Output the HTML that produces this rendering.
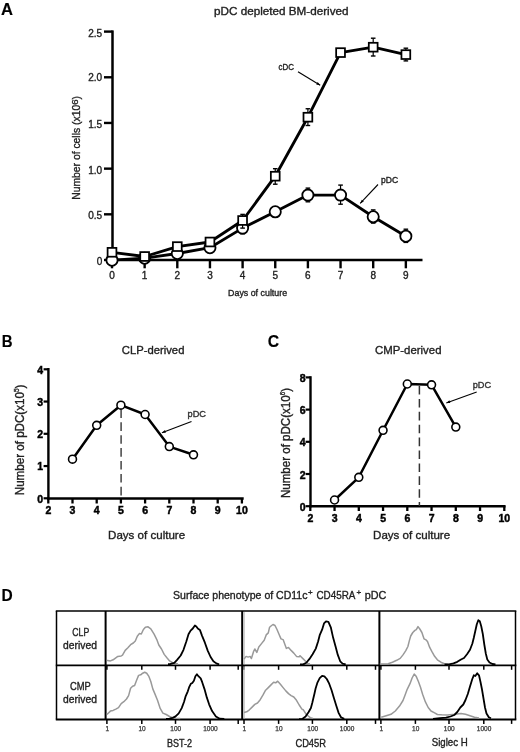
<!DOCTYPE html>
<html><head><meta charset="utf-8"><style>
html,body{margin:0;padding:0;background:#fff;}
svg{display:block;font-family:"Liberation Sans", sans-serif;will-change:transform;}
</style></head><body>
<svg width="520" height="752" viewBox="0 0 520 752" font-family='"Liberation Sans", sans-serif'>
<rect width="520" height="752" fill="#fff"/>
<text x="0.9" y="15.2" font-size="17" text-anchor="start" font-weight="bold" fill="#000" stroke="#000" stroke-width="0.15" textLength="12" lengthAdjust="spacingAndGlyphs" >A</text>
<text x="214" y="15.2" font-size="11" text-anchor="start" font-weight="normal" fill="#222" stroke="#222" stroke-width="0.35" textLength="134.5" lengthAdjust="spacingAndGlyphs" >pDC depleted BM-derived</text>
<line x1="112.5" y1="30.4" x2="112.5" y2="261.2" stroke="#000" stroke-width="2.5" />
<line x1="111.3" y1="260" x2="422.5" y2="260" stroke="#000" stroke-width="2.5" />
<line x1="104" y1="260.0" x2="112.5" y2="260.0" stroke="#000" stroke-width="2.4" />
<text x="102.2" y="264.8" font-size="10" text-anchor="end" font-weight="normal" fill="#222" stroke="#222" stroke-width="0.35" >0</text>
<line x1="104" y1="214.32" x2="112.5" y2="214.32" stroke="#000" stroke-width="2.4" />
<text x="102.2" y="219.32" font-size="10" text-anchor="end" font-weight="normal" fill="#222" stroke="#222" stroke-width="0.35" >0.5</text>
<line x1="104" y1="168.64" x2="112.5" y2="168.64" stroke="#000" stroke-width="2.4" />
<text x="102.2" y="173.54" font-size="10" text-anchor="end" font-weight="normal" fill="#222" stroke="#222" stroke-width="0.35" >1.0</text>
<line x1="104" y1="122.96000000000001" x2="112.5" y2="122.96000000000001" stroke="#000" stroke-width="2.4" />
<text x="102.2" y="127.86000000000001" font-size="10" text-anchor="end" font-weight="normal" fill="#222" stroke="#222" stroke-width="0.35" >1.5</text>
<line x1="104" y1="77.28" x2="112.5" y2="77.28" stroke="#000" stroke-width="2.4" />
<text x="102.2" y="81.08" font-size="10" text-anchor="end" font-weight="normal" fill="#222" stroke="#222" stroke-width="0.35" >2.0</text>
<line x1="104" y1="31.599999999999994" x2="112.5" y2="31.599999999999994" stroke="#000" stroke-width="2.4" />
<text x="102.2" y="36.99999999999999" font-size="10" text-anchor="end" font-weight="normal" fill="#222" stroke="#222" stroke-width="0.35" >2.5</text>
<line x1="112.0" y1="260" x2="112.0" y2="268.3" stroke="#000" stroke-width="2.4" />
<text x="112.0" y="278.7" font-size="10" text-anchor="middle" font-weight="normal" fill="#222" stroke="#222" stroke-width="0.35" >0</text>
<line x1="144.65" y1="260" x2="144.65" y2="268.3" stroke="#000" stroke-width="2.4" />
<text x="144.65" y="278.7" font-size="10" text-anchor="middle" font-weight="normal" fill="#222" stroke="#222" stroke-width="0.35" >1</text>
<line x1="177.3" y1="260" x2="177.3" y2="268.3" stroke="#000" stroke-width="2.4" />
<text x="177.3" y="278.7" font-size="10" text-anchor="middle" font-weight="normal" fill="#222" stroke="#222" stroke-width="0.35" >2</text>
<line x1="209.95" y1="260" x2="209.95" y2="268.3" stroke="#000" stroke-width="2.4" />
<text x="209.95" y="278.7" font-size="10" text-anchor="middle" font-weight="normal" fill="#222" stroke="#222" stroke-width="0.35" >3</text>
<line x1="242.6" y1="260" x2="242.6" y2="268.3" stroke="#000" stroke-width="2.4" />
<text x="242.6" y="278.7" font-size="10" text-anchor="middle" font-weight="normal" fill="#222" stroke="#222" stroke-width="0.35" >4</text>
<line x1="275.25" y1="260" x2="275.25" y2="268.3" stroke="#000" stroke-width="2.4" />
<text x="275.25" y="278.7" font-size="10" text-anchor="middle" font-weight="normal" fill="#222" stroke="#222" stroke-width="0.35" >5</text>
<line x1="307.9" y1="260" x2="307.9" y2="268.3" stroke="#000" stroke-width="2.4" />
<text x="307.9" y="278.7" font-size="10" text-anchor="middle" font-weight="normal" fill="#222" stroke="#222" stroke-width="0.35" >6</text>
<line x1="340.54999999999995" y1="260" x2="340.54999999999995" y2="268.3" stroke="#000" stroke-width="2.4" />
<text x="340.54999999999995" y="278.7" font-size="10" text-anchor="middle" font-weight="normal" fill="#222" stroke="#222" stroke-width="0.35" >7</text>
<line x1="373.2" y1="260" x2="373.2" y2="268.3" stroke="#000" stroke-width="2.4" />
<text x="373.2" y="278.7" font-size="10" text-anchor="middle" font-weight="normal" fill="#222" stroke="#222" stroke-width="0.35" >8</text>
<line x1="405.84999999999997" y1="260" x2="405.84999999999997" y2="268.3" stroke="#000" stroke-width="2.4" />
<text x="405.84999999999997" y="278.7" font-size="10" text-anchor="middle" font-weight="normal" fill="#222" stroke="#222" stroke-width="0.35" >9</text>
<text x="228.1" y="295.8" font-size="9" text-anchor="start" font-weight="normal" fill="#222" stroke="#222" stroke-width="0.35" textLength="59" lengthAdjust="spacingAndGlyphs" >Days of culture</text>
<text transform="translate(79.6,199.8) rotate(-90)" font-size="10.5" fill="#222" stroke="#222" stroke-width="0.35" textLength="103.8" lengthAdjust="spacingAndGlyphs">Number of cells (x10<tspan font-size="9.8" dy="-1.7">6</tspan><tspan dy="1.7">)</tspan></text>
<polyline points="112.0,260.2 144.7,258.2 177.3,253.5 209.9,247.7 242.6,228.1 275.2,211.8 307.9,195.1 340.5,195.1 373.2,216.8 405.8,236.2" fill="none" stroke="#000" stroke-width="2.85" stroke-linejoin="round" />
<line x1="242.6" y1="222" x2="242.6" y2="233.8" stroke="#000" stroke-width="1.2" />
<line x1="240.29999999999998" y1="222" x2="244.9" y2="222" stroke="#000" stroke-width="1.4" />
<line x1="240.29999999999998" y1="233.8" x2="244.9" y2="233.8" stroke="#000" stroke-width="1.4" />
<line x1="307.9" y1="188.1" x2="307.9" y2="201.8" stroke="#000" stroke-width="1.2" />
<line x1="305.59999999999997" y1="188.1" x2="310.2" y2="188.1" stroke="#000" stroke-width="1.4" />
<line x1="305.59999999999997" y1="201.8" x2="310.2" y2="201.8" stroke="#000" stroke-width="1.4" />
<line x1="340.54999999999995" y1="185.1" x2="340.54999999999995" y2="204.2" stroke="#000" stroke-width="1.2" />
<line x1="338.24999999999994" y1="185.1" x2="342.84999999999997" y2="185.1" stroke="#000" stroke-width="1.4" />
<line x1="338.24999999999994" y1="204.2" x2="342.84999999999997" y2="204.2" stroke="#000" stroke-width="1.4" />
<line x1="373.2" y1="209.9" x2="373.2" y2="223.1" stroke="#000" stroke-width="1.2" />
<line x1="370.9" y1="209.9" x2="375.5" y2="209.9" stroke="#000" stroke-width="1.4" />
<line x1="370.9" y1="223.1" x2="375.5" y2="223.1" stroke="#000" stroke-width="1.4" />
<line x1="405.84999999999997" y1="229.2" x2="405.84999999999997" y2="242.4" stroke="#000" stroke-width="1.2" />
<line x1="403.54999999999995" y1="229.2" x2="408.15" y2="229.2" stroke="#000" stroke-width="1.4" />
<line x1="403.54999999999995" y1="242.4" x2="408.15" y2="242.4" stroke="#000" stroke-width="1.4" />
<circle cx="112.00" cy="260.2" r="5.6" fill="#fff" stroke="#000" stroke-width="1.8"/>
<circle cx="144.65" cy="258.2" r="5.6" fill="#fff" stroke="#000" stroke-width="1.8"/>
<circle cx="177.30" cy="253.5" r="5.6" fill="#fff" stroke="#000" stroke-width="1.8"/>
<circle cx="209.95" cy="247.7" r="5.6" fill="#fff" stroke="#000" stroke-width="1.8"/>
<circle cx="242.60" cy="228.1" r="5.6" fill="#fff" stroke="#000" stroke-width="1.8"/>
<circle cx="275.25" cy="211.8" r="5.6" fill="#fff" stroke="#000" stroke-width="1.8"/>
<circle cx="307.90" cy="195.1" r="5.6" fill="#fff" stroke="#000" stroke-width="1.8"/>
<circle cx="340.55" cy="195.1" r="5.6" fill="#fff" stroke="#000" stroke-width="1.8"/>
<circle cx="373.20" cy="216.8" r="5.6" fill="#fff" stroke="#000" stroke-width="1.8"/>
<circle cx="405.85" cy="236.2" r="5.6" fill="#fff" stroke="#000" stroke-width="1.8"/>
<polyline points="112.0,252.3 144.7,256.5 177.3,246.6 209.9,242.0 242.6,220.5 275.2,176.2 307.9,117.2 340.5,52.6 373.2,47.2 405.8,54.6" fill="none" stroke="#000" stroke-width="2.85" stroke-linejoin="round" />
<line x1="242.6" y1="214.4" x2="242.6" y2="228.1" stroke="#000" stroke-width="1.2" />
<line x1="240.29999999999998" y1="214.4" x2="244.9" y2="214.4" stroke="#000" stroke-width="1.4" />
<line x1="240.29999999999998" y1="228.1" x2="244.9" y2="228.1" stroke="#000" stroke-width="1.4" />
<line x1="275.25" y1="168.7" x2="275.25" y2="184.2" stroke="#000" stroke-width="1.2" />
<line x1="272.95" y1="168.7" x2="277.55" y2="168.7" stroke="#000" stroke-width="1.4" />
<line x1="272.95" y1="184.2" x2="277.55" y2="184.2" stroke="#000" stroke-width="1.4" />
<line x1="307.9" y1="108.75" x2="307.9" y2="125.5" stroke="#000" stroke-width="1.2" />
<line x1="305.59999999999997" y1="108.75" x2="310.2" y2="108.75" stroke="#000" stroke-width="1.4" />
<line x1="305.59999999999997" y1="125.5" x2="310.2" y2="125.5" stroke="#000" stroke-width="1.4" />
<line x1="373.2" y1="38.2" x2="373.2" y2="56" stroke="#000" stroke-width="1.2" />
<line x1="370.9" y1="38.2" x2="375.5" y2="38.2" stroke="#000" stroke-width="1.4" />
<line x1="370.9" y1="56" x2="375.5" y2="56" stroke="#000" stroke-width="1.4" />
<line x1="405.84999999999997" y1="48.2" x2="405.84999999999997" y2="60.9" stroke="#000" stroke-width="1.2" />
<line x1="403.54999999999995" y1="48.2" x2="408.15" y2="48.2" stroke="#000" stroke-width="1.4" />
<line x1="403.54999999999995" y1="60.9" x2="408.15" y2="60.9" stroke="#000" stroke-width="1.4" />
<rect x="107.60" y="247.90" width="8.8" height="8.8" fill="#fff" stroke="#000" stroke-width="1.75"/>
<rect x="140.25" y="252.10" width="8.8" height="8.8" fill="#fff" stroke="#000" stroke-width="1.75"/>
<rect x="172.90" y="242.20" width="8.8" height="8.8" fill="#fff" stroke="#000" stroke-width="1.75"/>
<rect x="205.55" y="237.60" width="8.8" height="8.8" fill="#fff" stroke="#000" stroke-width="1.75"/>
<rect x="238.20" y="216.10" width="8.8" height="8.8" fill="#fff" stroke="#000" stroke-width="1.75"/>
<rect x="270.85" y="171.80" width="8.8" height="8.8" fill="#fff" stroke="#000" stroke-width="1.75"/>
<rect x="303.50" y="112.80" width="8.8" height="8.8" fill="#fff" stroke="#000" stroke-width="1.75"/>
<rect x="336.15" y="48.20" width="8.8" height="8.8" fill="#fff" stroke="#000" stroke-width="1.75"/>
<rect x="368.80" y="42.80" width="8.8" height="8.8" fill="#fff" stroke="#000" stroke-width="1.75"/>
<rect x="401.45" y="50.20" width="8.8" height="8.8" fill="#fff" stroke="#000" stroke-width="1.75"/>
<text x="278.5" y="69.8" font-size="8.6" text-anchor="start" font-weight="normal" fill="#222" stroke="#222" stroke-width="0.35" textLength="15.4" lengthAdjust="spacingAndGlyphs" >cDC</text>
<line x1="298" y1="71.8" x2="320.2" y2="85.3" stroke="#000" stroke-width="1.1" />
<polygon points="320.2,85.3 316.2,84.5 317.7,82.1" fill="#000"/>
<text x="381" y="183.2" font-size="8.6" text-anchor="start" font-weight="normal" fill="#222" stroke="#222" stroke-width="0.35" textLength="17.1" lengthAdjust="spacingAndGlyphs" >pDC</text>
<line x1="378" y1="184.5" x2="360.2" y2="203.4" stroke="#000" stroke-width="1.1" />
<polygon points="360.2,203.4 361.8,199.7 363.8,201.6" fill="#000"/>
<text x="1.7" y="346.5" font-size="17" text-anchor="start" font-weight="bold" fill="#000" stroke="#000" stroke-width="0.15" textLength="10.8" lengthAdjust="spacingAndGlyphs" >B</text>
<text x="121.8" y="354.1" font-size="11.7" text-anchor="start" font-weight="normal" fill="#222" stroke="#222" stroke-width="0.35" textLength="62.6" lengthAdjust="spacingAndGlyphs" >CLP-derived</text>
<line x1="48.4" y1="368" x2="48.4" y2="499.5" stroke="#000" stroke-width="2.4" />
<line x1="47.2" y1="498.5" x2="243.7" y2="498.5" stroke="#000" stroke-width="2.4" />
<line x1="43.6" y1="498.3" x2="48.4" y2="498.3" stroke="#000" stroke-width="2.2" />
<text x="43.2" y="502.5" font-size="10.5" text-anchor="end" font-weight="bold" fill="#000" stroke="#000" stroke-width="0.45" >0</text>
<line x1="43.6" y1="466.05" x2="48.4" y2="466.05" stroke="#000" stroke-width="2.2" />
<text x="43.2" y="470.25" font-size="10.5" text-anchor="end" font-weight="bold" fill="#000" stroke="#000" stroke-width="0.45" >1</text>
<line x1="43.6" y1="433.8" x2="48.4" y2="433.8" stroke="#000" stroke-width="2.2" />
<text x="43.2" y="438.0" font-size="10.5" text-anchor="end" font-weight="bold" fill="#000" stroke="#000" stroke-width="0.45" >2</text>
<line x1="43.6" y1="401.55" x2="48.4" y2="401.55" stroke="#000" stroke-width="2.2" />
<text x="43.2" y="405.75" font-size="10.5" text-anchor="end" font-weight="bold" fill="#000" stroke="#000" stroke-width="0.45" >3</text>
<line x1="43.6" y1="369.3" x2="48.4" y2="369.3" stroke="#000" stroke-width="2.2" />
<text x="43.2" y="373.5" font-size="10.5" text-anchor="end" font-weight="bold" fill="#000" stroke="#000" stroke-width="0.45" >4</text>
<line x1="48.3" y1="498.5" x2="48.3" y2="503.5" stroke="#000" stroke-width="2.3" />
<text x="48.3" y="513.6" font-size="10.5" text-anchor="middle" font-weight="bold" fill="#000" stroke="#000" stroke-width="0.45" >2</text>
<line x1="72.5" y1="498.5" x2="72.5" y2="503.5" stroke="#000" stroke-width="2.3" />
<text x="72.5" y="513.6" font-size="10.5" text-anchor="middle" font-weight="bold" fill="#000" stroke="#000" stroke-width="0.45" >3</text>
<line x1="96.69999999999999" y1="498.5" x2="96.69999999999999" y2="503.5" stroke="#000" stroke-width="2.3" />
<text x="96.69999999999999" y="513.6" font-size="10.5" text-anchor="middle" font-weight="bold" fill="#000" stroke="#000" stroke-width="0.45" >4</text>
<line x1="120.89999999999999" y1="498.5" x2="120.89999999999999" y2="503.5" stroke="#000" stroke-width="2.3" />
<text x="120.89999999999999" y="513.6" font-size="10.5" text-anchor="middle" font-weight="bold" fill="#000" stroke="#000" stroke-width="0.45" >5</text>
<line x1="145.1" y1="498.5" x2="145.1" y2="503.5" stroke="#000" stroke-width="2.3" />
<text x="145.1" y="513.6" font-size="10.5" text-anchor="middle" font-weight="bold" fill="#000" stroke="#000" stroke-width="0.45" >6</text>
<line x1="169.3" y1="498.5" x2="169.3" y2="503.5" stroke="#000" stroke-width="2.3" />
<text x="169.3" y="513.6" font-size="10.5" text-anchor="middle" font-weight="bold" fill="#000" stroke="#000" stroke-width="0.45" >7</text>
<line x1="193.5" y1="498.5" x2="193.5" y2="503.5" stroke="#000" stroke-width="2.3" />
<text x="193.5" y="513.6" font-size="10.5" text-anchor="middle" font-weight="bold" fill="#000" stroke="#000" stroke-width="0.45" >8</text>
<line x1="217.7" y1="498.5" x2="217.7" y2="503.5" stroke="#000" stroke-width="2.3" />
<text x="217.7" y="513.6" font-size="10.5" text-anchor="middle" font-weight="bold" fill="#000" stroke="#000" stroke-width="0.45" >9</text>
<line x1="241.89999999999998" y1="498.5" x2="241.89999999999998" y2="503.5" stroke="#000" stroke-width="2.3" />
<text x="241.89999999999998" y="513.6" font-size="10.5" text-anchor="middle" font-weight="bold" fill="#000" stroke="#000" stroke-width="0.45" >10</text>
<text x="108.1" y="538.5" font-size="11.2" text-anchor="start" font-weight="normal" fill="#222" stroke="#222" stroke-width="0.35" textLength="77" lengthAdjust="spacingAndGlyphs" >Days of culture</text>
<text transform="translate(23.8,495.2) rotate(-90)" font-size="12" fill="#222" stroke="#222" stroke-width="0.35" textLength="110.5" lengthAdjust="spacingAndGlyphs">Number of pDC(x10<tspan font-size="6.5" dy="-5">5</tspan><tspan dy="5">)</tspan></text>
<line x1="121.1" y1="409.4" x2="121.1" y2="498" stroke="#444" stroke-width="1.5" stroke-dasharray="8.6,4.3"/>
<polyline points="72.5,459.2 96.7,425.3 120.9,405.2 145.1,414.5 169.3,446.6 193.5,454.8" fill="none" stroke="#000" stroke-width="2.5" stroke-linejoin="round" />
<circle cx="72.50" cy="459.2" r="3.95" fill="#fff" stroke="#000" stroke-width="1.6"/>
<circle cx="96.70" cy="425.3" r="3.95" fill="#fff" stroke="#000" stroke-width="1.6"/>
<circle cx="120.90" cy="405.2" r="3.95" fill="#fff" stroke="#000" stroke-width="1.6"/>
<circle cx="145.10" cy="414.5" r="3.95" fill="#fff" stroke="#000" stroke-width="1.6"/>
<circle cx="169.30" cy="446.6" r="3.95" fill="#fff" stroke="#000" stroke-width="1.6"/>
<circle cx="193.50" cy="454.8" r="3.95" fill="#fff" stroke="#000" stroke-width="1.6"/>
<text x="187.6" y="417.4" font-size="8.8" text-anchor="start" font-weight="normal" fill="#333" stroke="#333" stroke-width="0.35" textLength="18.4" lengthAdjust="spacingAndGlyphs" >pDC</text>
<line x1="191.5" y1="421.4" x2="161.9" y2="432.7" stroke="#000" stroke-width="1.1" />
<polygon points="161.9,432.7 165.0,430.0 165.9,432.7" fill="#000"/>
<text x="267.7" y="346.6" font-size="17" text-anchor="start" font-weight="bold" fill="#000" stroke="#000" stroke-width="0.15" textLength="11.4" lengthAdjust="spacingAndGlyphs" >C</text>
<text x="375" y="354.1" font-size="11.7" text-anchor="start" font-weight="normal" fill="#222" stroke="#222" stroke-width="0.35" textLength="66.5" lengthAdjust="spacingAndGlyphs" >CMP-derived</text>
<line x1="310.5" y1="376.2" x2="310.5" y2="507.4" stroke="#000" stroke-width="2.4" />
<line x1="309.3" y1="506.2" x2="505.6" y2="506.2" stroke="#000" stroke-width="2.4" />
<line x1="305.6" y1="506.2" x2="310.5" y2="506.2" stroke="#000" stroke-width="2.2" />
<text x="305.6" y="510.8" font-size="10.5" text-anchor="end" font-weight="bold" fill="#000" stroke="#000" stroke-width="0.45" >0</text>
<line x1="305.6" y1="474.0" x2="310.5" y2="474.0" stroke="#000" stroke-width="2.2" />
<text x="305.6" y="478.6" font-size="10.5" text-anchor="end" font-weight="bold" fill="#000" stroke="#000" stroke-width="0.45" >2</text>
<line x1="305.6" y1="441.79999999999995" x2="310.5" y2="441.79999999999995" stroke="#000" stroke-width="2.2" />
<text x="305.6" y="446.4" font-size="10.5" text-anchor="end" font-weight="bold" fill="#000" stroke="#000" stroke-width="0.45" >4</text>
<line x1="305.6" y1="409.59999999999997" x2="310.5" y2="409.59999999999997" stroke="#000" stroke-width="2.2" />
<text x="305.6" y="414.2" font-size="10.5" text-anchor="end" font-weight="bold" fill="#000" stroke="#000" stroke-width="0.45" >6</text>
<line x1="305.6" y1="377.4" x2="310.5" y2="377.4" stroke="#000" stroke-width="2.2" />
<text x="305.6" y="382.0" font-size="10.5" text-anchor="end" font-weight="bold" fill="#000" stroke="#000" stroke-width="0.45" >8</text>
<line x1="310.3" y1="506.2" x2="310.3" y2="511" stroke="#000" stroke-width="2.3" />
<text x="310.3" y="521.6" font-size="10.5" text-anchor="middle" font-weight="bold" fill="#000" stroke="#000" stroke-width="0.45" >2</text>
<line x1="334.55" y1="506.2" x2="334.55" y2="511" stroke="#000" stroke-width="2.3" />
<text x="334.55" y="521.6" font-size="10.5" text-anchor="middle" font-weight="bold" fill="#000" stroke="#000" stroke-width="0.45" >3</text>
<line x1="358.8" y1="506.2" x2="358.8" y2="511" stroke="#000" stroke-width="2.3" />
<text x="358.8" y="521.6" font-size="10.5" text-anchor="middle" font-weight="bold" fill="#000" stroke="#000" stroke-width="0.45" >4</text>
<line x1="383.05" y1="506.2" x2="383.05" y2="511" stroke="#000" stroke-width="2.3" />
<text x="383.05" y="521.6" font-size="10.5" text-anchor="middle" font-weight="bold" fill="#000" stroke="#000" stroke-width="0.45" >5</text>
<line x1="407.3" y1="506.2" x2="407.3" y2="511" stroke="#000" stroke-width="2.3" />
<text x="407.3" y="521.6" font-size="10.5" text-anchor="middle" font-weight="bold" fill="#000" stroke="#000" stroke-width="0.45" >6</text>
<line x1="431.55" y1="506.2" x2="431.55" y2="511" stroke="#000" stroke-width="2.3" />
<text x="431.55" y="521.6" font-size="10.5" text-anchor="middle" font-weight="bold" fill="#000" stroke="#000" stroke-width="0.45" >7</text>
<line x1="455.8" y1="506.2" x2="455.8" y2="511" stroke="#000" stroke-width="2.3" />
<text x="455.8" y="521.6" font-size="10.5" text-anchor="middle" font-weight="bold" fill="#000" stroke="#000" stroke-width="0.45" >8</text>
<line x1="480.05" y1="506.2" x2="480.05" y2="511" stroke="#000" stroke-width="2.3" />
<text x="480.05" y="521.6" font-size="10.5" text-anchor="middle" font-weight="bold" fill="#000" stroke="#000" stroke-width="0.45" >9</text>
<line x1="504.3" y1="506.2" x2="504.3" y2="511" stroke="#000" stroke-width="2.3" />
<text x="504.3" y="521.6" font-size="10.5" text-anchor="middle" font-weight="bold" fill="#000" stroke="#000" stroke-width="0.45" >10</text>
<text x="373.1" y="538.7" font-size="11.2" text-anchor="start" font-weight="normal" fill="#222" stroke="#222" stroke-width="0.35" textLength="77" lengthAdjust="spacingAndGlyphs" >Days of culture</text>
<text transform="translate(289.7,498.1) rotate(-90)" font-size="12" fill="#222" stroke="#222" stroke-width="0.35" textLength="110.1" lengthAdjust="spacingAndGlyphs">Number of pDC(x10<tspan font-size="6.5" dy="-5">6</tspan><tspan dy="5">)</tspan></text>
<line x1="419.4" y1="386" x2="419.4" y2="506" stroke="#333" stroke-width="1.5" stroke-dasharray="8.6,4.3"/>
<polyline points="334.6,500.0 358.8,477.3 383.1,430.3 407.3,384.0 431.6,384.8 455.8,427.1" fill="none" stroke="#000" stroke-width="2.5" stroke-linejoin="round" />
<circle cx="334.55" cy="500" r="3.95" fill="#fff" stroke="#000" stroke-width="1.6"/>
<circle cx="358.80" cy="477.3" r="3.95" fill="#fff" stroke="#000" stroke-width="1.6"/>
<circle cx="383.05" cy="430.3" r="3.95" fill="#fff" stroke="#000" stroke-width="1.6"/>
<circle cx="407.30" cy="384" r="3.95" fill="#fff" stroke="#000" stroke-width="1.6"/>
<circle cx="431.55" cy="384.8" r="3.95" fill="#fff" stroke="#000" stroke-width="1.6"/>
<circle cx="455.80" cy="427.1" r="3.95" fill="#fff" stroke="#000" stroke-width="1.6"/>
<text x="472.7" y="388.2" font-size="8.8" text-anchor="start" font-weight="normal" fill="#333" stroke="#333" stroke-width="0.35" textLength="18.4" lengthAdjust="spacingAndGlyphs" >pDC</text>
<line x1="476.7" y1="391.9" x2="446.3" y2="402.9" stroke="#000" stroke-width="1.1" />
<polygon points="446.3,402.9 449.4,400.3 450.3,402.9" fill="#000"/>
<text x="1.5" y="600.8" font-size="17" text-anchor="start" font-weight="bold" fill="#000" stroke="#000" stroke-width="0.15" textLength="11.2" lengthAdjust="spacingAndGlyphs" >D</text>
<text x="173.1" y="598.5" font-size="11.2" fill="#222" stroke="#222" stroke-width="0.35"><tspan textLength="134.4" lengthAdjust="spacingAndGlyphs">Surface phenotype of CD11c</tspan><tspan x="308" font-size="8" dy="-4">+</tspan><tspan x="316.4" dy="4" textLength="39" lengthAdjust="spacingAndGlyphs">CD45RA</tspan><tspan x="356.6" font-size="8" dy="-4">+</tspan><tspan x="364.8" dy="4" textLength="21.6" lengthAdjust="spacingAndGlyphs">pDC</tspan></text>
<line x1="55.8" y1="611" x2="516.3" y2="611" stroke="#000" stroke-width="1.7" />
<line x1="55.8" y1="665.4" x2="516.3" y2="665.4" stroke="#000" stroke-width="1.8" />
<line x1="55.8" y1="719.5" x2="516.3" y2="719.5" stroke="#000" stroke-width="2.0" />
<line x1="56.5" y1="611" x2="56.5" y2="719.5" stroke="#000" stroke-width="1.5" />
<line x1="515.5" y1="611" x2="515.5" y2="719.5" stroke="#000" stroke-width="1.5" />
<line x1="105.6" y1="611" x2="105.6" y2="719.5" stroke="#000" stroke-width="2.0" />
<line x1="242.2" y1="611" x2="242.2" y2="719.5" stroke="#000" stroke-width="2.0" />
<line x1="379.4" y1="611" x2="379.4" y2="719.5" stroke="#000" stroke-width="2.0" />
<text x="72.3" y="636.2" font-size="10.5" text-anchor="start" font-weight="normal" fill="#222" stroke="#222" stroke-width="0.35" textLength="16.9" lengthAdjust="spacingAndGlyphs" >CLP</text>
<text x="63.1" y="648.9" font-size="10.5" text-anchor="start" font-weight="normal" fill="#222" stroke="#222" stroke-width="0.35" textLength="33.8" lengthAdjust="spacingAndGlyphs" >derived</text>
<text x="70" y="690" font-size="10.5" text-anchor="start" font-weight="normal" fill="#222" stroke="#222" stroke-width="0.35" textLength="20.8" lengthAdjust="spacingAndGlyphs" >CMP</text>
<text x="63.1" y="703" font-size="10.5" text-anchor="start" font-weight="normal" fill="#222" stroke="#222" stroke-width="0.35" textLength="33.8" lengthAdjust="spacingAndGlyphs" >derived</text>
<line x1="106.9" y1="665.4" x2="106.9" y2="669.8" stroke="#000" stroke-width="1.5" />
<line x1="141.8" y1="665.4" x2="141.8" y2="669.8" stroke="#000" stroke-width="1.5" />
<line x1="175.5" y1="665.4" x2="175.5" y2="669.8" stroke="#000" stroke-width="1.5" />
<line x1="210.1" y1="665.4" x2="210.1" y2="669.8" stroke="#000" stroke-width="1.5" />
<line x1="238.2" y1="665.4" x2="238.2" y2="669.8" stroke="#000" stroke-width="1.5" />
<line x1="106.9" y1="719.5" x2="106.9" y2="723.9" stroke="#000" stroke-width="1.5" />
<line x1="141.8" y1="719.5" x2="141.8" y2="723.9" stroke="#000" stroke-width="1.5" />
<line x1="175.5" y1="719.5" x2="175.5" y2="723.9" stroke="#000" stroke-width="1.5" />
<line x1="210.1" y1="719.5" x2="210.1" y2="723.9" stroke="#000" stroke-width="1.5" />
<line x1="238.2" y1="719.5" x2="238.2" y2="723.9" stroke="#000" stroke-width="1.5" />
<line x1="244.0" y1="665.4" x2="244.0" y2="669.8" stroke="#000" stroke-width="1.5" />
<line x1="278.6" y1="665.4" x2="278.6" y2="669.8" stroke="#000" stroke-width="1.5" />
<line x1="312.4" y1="665.4" x2="312.4" y2="669.8" stroke="#000" stroke-width="1.5" />
<line x1="346.8" y1="665.4" x2="346.8" y2="669.8" stroke="#000" stroke-width="1.5" />
<line x1="375.5" y1="665.4" x2="375.5" y2="669.8" stroke="#000" stroke-width="1.5" />
<line x1="244.0" y1="719.5" x2="244.0" y2="723.9" stroke="#000" stroke-width="1.5" />
<line x1="278.6" y1="719.5" x2="278.6" y2="723.9" stroke="#000" stroke-width="1.5" />
<line x1="312.4" y1="719.5" x2="312.4" y2="723.9" stroke="#000" stroke-width="1.5" />
<line x1="346.8" y1="719.5" x2="346.8" y2="723.9" stroke="#000" stroke-width="1.5" />
<line x1="375.5" y1="719.5" x2="375.5" y2="723.9" stroke="#000" stroke-width="1.5" />
<line x1="380.9" y1="665.4" x2="380.9" y2="669.8" stroke="#000" stroke-width="1.5" />
<line x1="415.4" y1="665.4" x2="415.4" y2="669.8" stroke="#000" stroke-width="1.5" />
<line x1="449" y1="665.4" x2="449" y2="669.8" stroke="#000" stroke-width="1.5" />
<line x1="483.8" y1="665.4" x2="483.8" y2="669.8" stroke="#000" stroke-width="1.5" />
<line x1="511.6" y1="665.4" x2="511.6" y2="669.8" stroke="#000" stroke-width="1.5" />
<line x1="380.9" y1="719.5" x2="380.9" y2="723.9" stroke="#000" stroke-width="1.5" />
<line x1="415.4" y1="719.5" x2="415.4" y2="723.9" stroke="#000" stroke-width="1.5" />
<line x1="449" y1="719.5" x2="449" y2="723.9" stroke="#000" stroke-width="1.5" />
<line x1="483.8" y1="719.5" x2="483.8" y2="723.9" stroke="#000" stroke-width="1.5" />
<line x1="511.6" y1="719.5" x2="511.6" y2="723.9" stroke="#000" stroke-width="1.5" />
<text x="107.2" y="731" font-size="6.5" text-anchor="middle" font-weight="normal" fill="#333" stroke="#333" stroke-width="0.25" >1</text>
<text x="142.10000000000002" y="731" font-size="6.5" text-anchor="middle" font-weight="normal" fill="#333" stroke="#333" stroke-width="0.25" >10</text>
<text x="175.8" y="731" font-size="6.5" text-anchor="middle" font-weight="normal" fill="#333" stroke="#333" stroke-width="0.25" >100</text>
<text x="210.4" y="731" font-size="6.5" text-anchor="middle" font-weight="normal" fill="#333" stroke="#333" stroke-width="0.25" >1000</text>
<text x="244.3" y="731" font-size="6.5" text-anchor="middle" font-weight="normal" fill="#333" stroke="#333" stroke-width="0.25" >1</text>
<text x="278.90000000000003" y="731" font-size="6.5" text-anchor="middle" font-weight="normal" fill="#333" stroke="#333" stroke-width="0.25" >10</text>
<text x="312.7" y="731" font-size="6.5" text-anchor="middle" font-weight="normal" fill="#333" stroke="#333" stroke-width="0.25" >100</text>
<text x="347.1" y="731" font-size="6.5" text-anchor="middle" font-weight="normal" fill="#333" stroke="#333" stroke-width="0.25" >1000</text>
<text x="381.2" y="731" font-size="6.5" text-anchor="middle" font-weight="normal" fill="#333" stroke="#333" stroke-width="0.25" >1</text>
<text x="415.7" y="731" font-size="6.5" text-anchor="middle" font-weight="normal" fill="#333" stroke="#333" stroke-width="0.25" >10</text>
<text x="449.3" y="731" font-size="6.5" text-anchor="middle" font-weight="normal" fill="#333" stroke="#333" stroke-width="0.25" >100</text>
<text x="484.1" y="731" font-size="6.5" text-anchor="middle" font-weight="normal" fill="#333" stroke="#333" stroke-width="0.25" >1000</text>
<text x="166.9" y="746.5" font-size="10.3" text-anchor="start" font-weight="normal" fill="#222" stroke="#222" stroke-width="0.35" textLength="25" lengthAdjust="spacingAndGlyphs" >BST-2</text>
<text x="295.4" y="746.8" font-size="10.3" text-anchor="start" font-weight="normal" fill="#222" stroke="#222" stroke-width="0.35" textLength="30.6" lengthAdjust="spacingAndGlyphs" >CD45R</text>
<text x="431.7" y="746.3" font-size="10.3" text-anchor="start" font-weight="normal" fill="#222" stroke="#222" stroke-width="0.35" textLength="36" lengthAdjust="spacingAndGlyphs" >Siglec H</text>
<line x1="244.1" y1="612" x2="244.1" y2="664" stroke="#bbb" stroke-width="1.2" />
<line x1="244.1" y1="666.5" x2="244.1" y2="718.5" stroke="#bbb" stroke-width="1.2" />
<polyline points="106.8,660.6 107.7,660.5 110.4,660.9 113.1,659.8 115.8,657.8 117.8,656.4 121.2,656.0 122.5,655.1 125.2,650.4 127.9,647.7 130.6,644.7 133.3,643.0 135.3,641.0 137.3,636.2 139.3,633.6 141.3,634.0 143.4,629.5 145.4,627.2 148.1,626.8 150.8,628.8 154.1,634.2 156.8,639.6 158.8,645.0 161.5,649.0 164.2,654.4 166.9,657.8 169.6,660.9 172.3,662.5 175.0,663.2 178.0,664.0" fill="none" stroke="#999" stroke-width="1.5" stroke-linejoin="round" />
<polyline points="106.8,714.2 107.7,713.8 110.4,711.1 113.1,710.4 115.8,709.1 118.5,707.7 121.2,703.7 123.8,701.7 126.5,699.0 128.6,695.6 130.6,688.2 132.6,686.2 134.6,685.5 136.6,680.2 138.6,675.4 140.7,674.8 142.7,673.2 144.7,672.3 146.7,673.2 148.7,676.1 150.8,681.5 152.8,688.9 154.8,693.6 157.5,700.3 160.2,708.4 162.9,713.1 166.2,714.5 169.6,716.5 172.3,717.8 176.0,718.3 180.2,718.5" fill="none" stroke="#999" stroke-width="1.5" stroke-linejoin="round" />
<polyline points="244.0,659.1 246.1,656.4 248.1,657.1 250.1,656.4 251.4,658.5 253.5,651.7 254.8,649.0 256.8,652.4 258.8,647.0 261.5,643.6 264.2,640.3 266.2,634.9 268.3,632.9 269.6,627.2 271.6,625.5 273.0,624.5 275.0,625.5 277.0,629.5 279.0,634.2 281.0,638.9 283.1,639.6 285.1,645.0 286.4,648.4 288.5,647.4 291.1,650.4 293.8,653.1 296.5,656.4 299.2,656.8 300.0,655.7 303.2,658.9 306.3,662.0 308.0,663.6 310.0,664.0" fill="none" stroke="#999" stroke-width="1.5" stroke-linejoin="round" />
<polyline points="244.0,712.5 246.7,711.8 249.4,709.8 252.1,707.1 254.8,704.4 257.5,703.0 260.2,699.7 262.9,695.2 265.6,690.2 268.3,687.6 271.0,684.9 273.6,682.2 275.7,682.8 277.7,681.2 280.4,684.2 283.1,687.6 285.8,690.9 288.5,693.6 291.1,695.6 293.8,697.0 296.5,700.3 299.2,705.0 301.9,709.1 303.2,709.7 306.3,714.5 310.3,717.6 313.0,718.4" fill="none" stroke="#999" stroke-width="1.5" stroke-linejoin="round" />
<polyline points="379.8,664.0 388.2,663.8 392.4,662.2 396.7,660.3 400.2,658.4 403.0,654.9 405.8,650.7 407.9,646.5 409.3,640.9 410.7,636.0 412.8,632.5 414.9,630.4 416.3,629.7 418.0,626.6 419.8,629.0 421.9,632.5 424.0,638.8 426.1,639.9 427.5,641.6 429.6,647.2 431.8,651.4 434.6,656.3 437.4,659.8 440.9,662.2 444.4,663.8 448.6,664.5" fill="none" stroke="#999" stroke-width="1.5" stroke-linejoin="round" />
<polyline points="381.2,717.3 385.4,716.0 391.0,714.3 395.3,711.0 399.5,706.1 403.0,700.5 405.1,694.9 407.2,689.3 410.0,683.7 412.1,678.0 414.2,674.1 416.3,676.6 418.4,681.5 420.5,687.2 422.6,694.2 425.4,701.9 428.2,707.5 431.0,711.0 434.6,712.9 437.4,714.5 441.6,714.8 447.5,715.0 455.0,714.3 461.0,713.5 465.5,714.3 470.0,715.8 474.5,717.3 479.0,718.0" fill="none" stroke="#999" stroke-width="1.5" stroke-linejoin="round" />
<polyline points="168.0,664.2 170.0,664.1 174.3,662.9 177.1,659.8 180.7,655.5 183.5,649.8 186.4,641.3 188.5,634.2 190.6,630.6 192.8,628.5 194.9,625.4 196.3,626.4 197.8,628.5 199.9,629.9 202.0,635.6 204.9,642.7 207.7,650.6 210.6,657.0 213.4,661.2 216.3,663.4 219.1,664.4" fill="none" stroke="#000" stroke-width="1.8" stroke-linejoin="round" />
<polyline points="166.0,718.8 169.6,718.7 172.6,717.9 175.6,716.4 178.7,713.4 181.7,708.1 184.0,702.0 185.5,696.7 187.8,691.3 189.3,686.8 190.8,683.8 192.3,683.0 193.9,680.7 195.4,676.2 196.9,674.3 198.4,676.2 200.7,678.4 202.2,682.2 204.5,689.1 206.8,697.4 209.1,704.3 212.1,711.1 215.9,716.4 219.7,718.7 224.3,719.0" fill="none" stroke="#000" stroke-width="1.8" stroke-linejoin="round" />
<polyline points="300.0,664.4 303.2,664.4 306.3,662.8 309.5,658.9 312.6,654.2 315.8,648.6 318.1,641.5 319.7,635.2 322.1,629.7 324.0,623.4 326.0,621.4 328.4,621.8 330.8,627.3 333.1,637.6 335.5,646.3 337.8,654.9 340.2,661.3 342.6,663.6 345.7,664.4" fill="none" stroke="#000" stroke-width="1.8" stroke-linejoin="round" />
<polyline points="299.0,719.2 302.2,719.0 305.6,716.6 308.5,712.3 310.9,708.0 312.3,702.7 313.3,698.5 314.5,693.5 315.6,688.5 317.3,682.9 319.7,678.2 322.1,675.8 324.4,676.3 326.8,679.0 329.2,683.7 331.5,690.0 333.9,697.9 336.3,705.8 338.6,712.9 341.0,717.3 344.2,718.9" fill="none" stroke="#000" stroke-width="1.8" stroke-linejoin="round" />
<polyline points="444.5,664.3 449.0,664.3 453.5,663.3 457.3,661.8 461.0,659.5 464.0,658.0 467.0,654.3 470.0,649.8 472.3,643.8 473.8,637.8 475.3,631.0 476.8,624.3 478.3,620.2 479.8,621.3 481.3,626.5 482.8,634.0 484.3,644.5 485.8,653.5 487.3,659.5 489.5,662.5 492.5,664.0 495.5,664.3" fill="none" stroke="#000" stroke-width="1.8" stroke-linejoin="round" />
<polyline points="433.0,718.8 440.0,718.2 446.0,717.7 450.5,716.5 454.3,715.0 457.3,712.0 460.3,707.5 463.3,704.5 465.5,700.0 467.8,694.0 470.0,686.5 472.3,679.0 473.8,675.3 475.3,676.0 477.2,673.3 479.0,675.3 480.5,682.0 482.0,689.5 483.5,698.5 485.0,707.5 486.5,713.5 488.8,717.3 491.0,718.3" fill="none" stroke="#000" stroke-width="1.8" stroke-linejoin="round" />
</svg>
</body></html>
